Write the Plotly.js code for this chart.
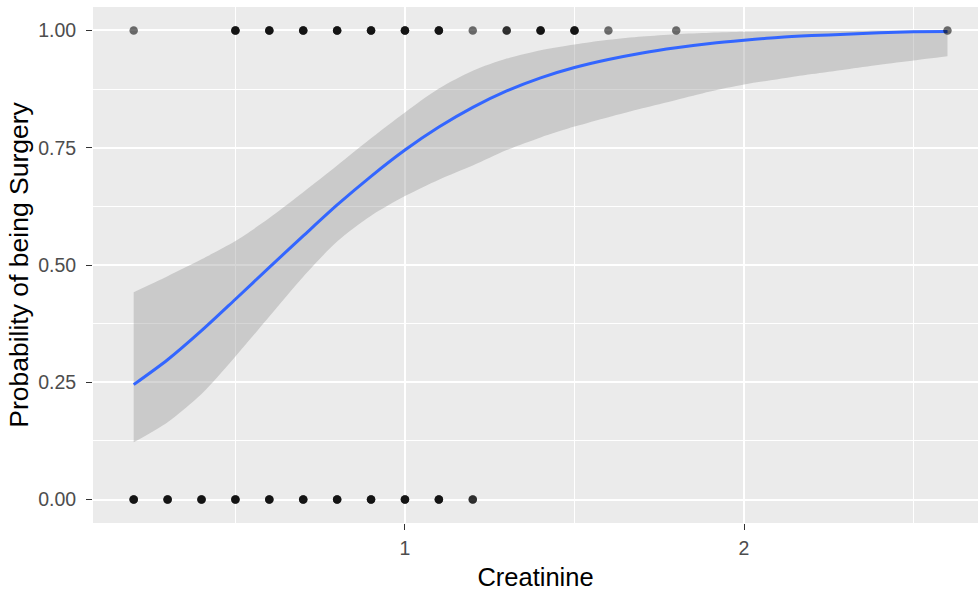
<!DOCTYPE html>
<html>
<head>
<meta charset="utf-8">
<script src="https://cdn.plot.ly/plotly-3.0.1.min.js"></script>
<style>html,body{margin:0;padding:0;background:#fff;}#chart{width:978px;height:592px;}</style>
</head>
<body>
<div id="chart"></div>
<script>
// Observed data points (repeated values = overlapping observations)
const surgeryX = [0.2, 0.5,0.5,0.5, 0.6,0.6,0.6, 0.7,0.7,0.7, 0.8,0.8,0.8, 0.9,0.9,0.9,
                  1.0,1.0,1.0, 1.1,1.1,1.1, 1.2, 1.3,1.3, 1.4,1.4,1.4, 1.5,1.5,1.5, 1.6, 1.8, 2.6];
const surgeryY = surgeryX.map(() => 1);
const noSurgeryX = [0.2,0.2,0.2, 0.3,0.3,0.3, 0.4,0.4,0.4, 0.5,0.5,0.5, 0.6,0.6,0.6, 0.7,0.7,0.7,
                    0.8,0.8,0.8, 0.9,0.9,0.9, 1.0,1.0,1.0, 1.1,1.1,1.1, 1.2,1.2];
const noSurgeryY = noSurgeryX.map(() => 0);

// Fitted logistic curve and confidence band
const fitX  = [0.2,0.3,0.4,0.5,0.6,0.7,0.8,0.9,1.0,1.1,1.2,1.3,1.4,1.5,1.6,1.7,1.8,1.9,2.0,2.1,2.2,2.3,2.4,2.5,2.6];
const fitY  = [0.245,0.298,0.360,0.427,0.495,0.562,0.628,0.689,0.745,0.794,0.836,0.871,0.899,0.921,0.938,0.952,0.963,0.972,0.979,0.985,0.989,0.992,0.995,0.997,0.998];
const fitLo = [0.122,0.165,0.225,0.305,0.390,0.475,0.550,0.605,0.647,0.682,0.712,0.745,0.772,0.795,0.815,0.834,0.852,0.870,0.885,0.896,0.907,0.917,0.927,0.936,0.945];
const fitHi = [0.442,0.476,0.512,0.551,0.600,0.655,0.712,0.770,0.825,0.876,0.914,0.940,0.958,0.970,0.980,0.987,0.992,0.995,0.997,0.998,0.999,0.999,1.000,1.000,1.000];

const xTickVals = [1, 2];
const xTickText = ["1", "2"];
const xMinorVals = [0.5, 1.5, 2.5];
const yTickVals = [0, 0.25, 0.5, 0.75, 1];
const yTickText = ["0.00", "0.25", "0.50", "0.75", "1.00"];
const yMinorVals = [0.125, 0.375, 0.625, 0.875];

const FONT = "Liberation Sans, Arial, sans-serif";

const traces = [
  {x: fitX, y: fitLo, type: "scatter", mode: "lines", line: {width: 0, shape: "spline", smoothing: 0.8},
   hoverinfo: "skip", showlegend: false},
  {x: fitX, y: fitHi, type: "scatter", mode: "lines", line: {width: 0, shape: "spline", smoothing: 0.8},
   fill: "tonexty", fillcolor: "rgba(153,153,153,0.4)", hoverinfo: "skip", showlegend: false},
  {x: fitX, y: fitY, type: "scatter", mode: "lines", line: {color: "#3366FF", width: 3, shape: "spline", smoothing: 0.8},
   showlegend: false},
  {x: surgeryX, y: surgeryY, type: "scatter", mode: "markers",
   marker: {size: 8.5, color: "rgba(0,0,0,0.56)", line: {width: 0}}, showlegend: false},
  {x: noSurgeryX, y: noSurgeryY, type: "scatter", mode: "markers",
   marker: {size: 8.5, color: "rgba(0,0,0,0.56)", line: {width: 0}}, showlegend: false}
];

const layout = {
  width: 978, height: 592,
  margin: {l: 93, r: 0, t: 7, b: 69, pad: 0},
  paper_bgcolor: "#FFFFFF",
  plot_bgcolor: "#EBEBEB",
  showlegend: false,
  font: {family: FONT},
  xaxis: {
    range: [0.08, 2.69],
    tickmode: "array", tickvals: xTickVals, ticktext: xTickText,
    showgrid: true, gridcolor: "#FFFFFF", gridwidth: 2,
    minor: {tickmode: "array", tickvals: xMinorVals, showgrid: true, gridcolor: "#FFFFFF", gridwidth: 1, ticks: ""},
    zeroline: false, showline: false,
    ticks: "outside", ticklen: 6, tickwidth: 1, tickcolor: "#333333",
    ticklabelstandoff: 2,
    tickfont: {size: 19.5, color: "#4D4D4D", family: FONT},
    title: {text: "Creatinine", font: {size: 25.5, color: "#000000", family: FONT}, standoff: 9}
  },
  yaxis: {
    range: [-0.05, 1.05],
    tickmode: "array", tickvals: yTickVals, ticktext: yTickText,
    showgrid: true, gridcolor: "#FFFFFF", gridwidth: 2,
    minor: {tickmode: "array", tickvals: yMinorVals, showgrid: true, gridcolor: "#FFFFFF", gridwidth: 1, ticks: ""},
    zeroline: false, showline: false,
    ticks: "outside", ticklen: 6, tickwidth: 1, tickcolor: "#333333",
    ticklabelstandoff: 6,
    tickfont: {size: 19.5, color: "#4D4D4D", family: FONT},
    title: {text: "Probability of being Surgery", font: {size: 26.5, color: "#000000", family: FONT}, standoff: 1}
  }
};

Plotly.newPlot("chart", traces, layout, {displayModeBar: false, staticPlot: true});
</script>
</body>
</html>
